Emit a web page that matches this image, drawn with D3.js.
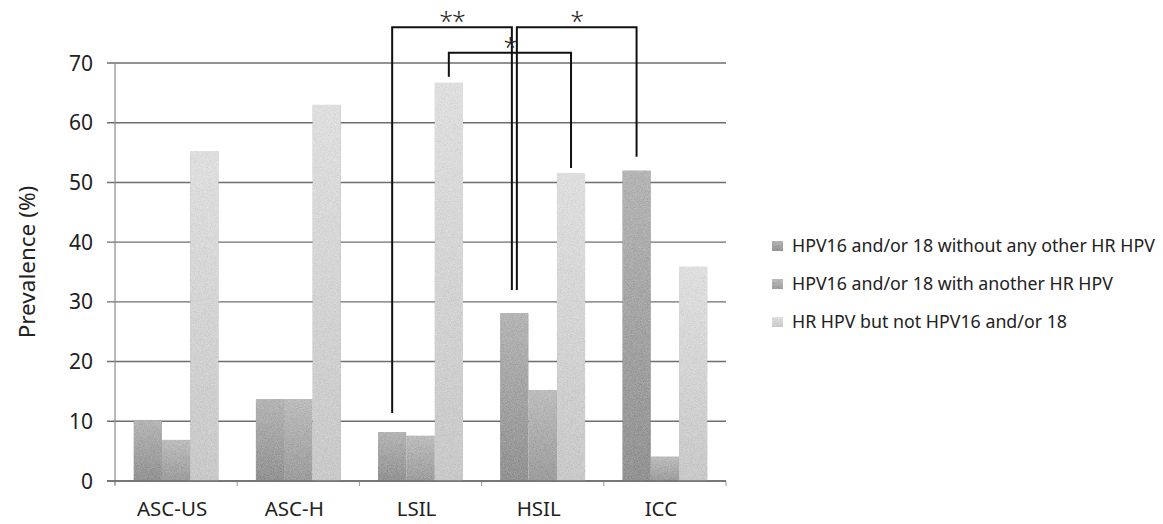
<!DOCTYPE html>
<html><head><meta charset="utf-8">
<script src="https://cdn.jsdelivr.net/npm/d3@7"></script>
<style>body{margin:0;background:#fff}svg{display:block}text{font-family:"Noto Sans",sans-serif;fill:#222}</style>
</head><body><svg id="c" width="1163" height="524"></svg>
<script>
const categories = ["ASC-US","ASC-H","LSIL","HSIL","ICC"];
const seriesNames = ["HPV16 and/or 18 without any other HR HPV","HPV16 and/or 18 with another HR HPV","HR HPV but not HPV16 and/or 18"];
const s0 = [10.2, 13.7, 8.2, 28.1, 52.0];
const s1 = [6.9, 13.7, 7.6, 15.2, 4.1];
const s2 = [55.2, 63.0, 66.7, 51.6, 35.9];
const yTicks = [0,10,20,30,40,50,60,70];
const brackets = [
  {a:[2,0], b:[3,0], top:76.0, endA:11.4, endB:32.0, label:"**", dA:0, dB:-2.5},
  {a:[2,2], b:[3,2], top:71.7, endA:67.7, endB:52.4, label:"*", dA:0, dB:0},
  {a:[3,0], b:[4,0], top:76.0, endA:32.0, endB:54.3, label:"*", dA:2.5, dB:0}
];
const series = [s0,s1,s2];
const svg = d3.select("#c");
const L=115, R=726, T=63, B=481;
const y = d3.scaleLinear().domain([0,70]).range([B,T]);
const x0 = d3.scaleBand().domain(categories).range([L,R]);
const gp = 18.6;
const x1 = d3.scaleBand().domain([0,1,2]).range([gp, x0.bandwidth()-gp]);
const cols = [["#b4b4b4","#929292"],["#bcbcbc","#9c9c9c"],["#dedede","#c8c8c8"]];
const defs = svg.append("defs");
cols.forEach((c,i)=>{
  const g = defs.append("linearGradient").attr("id","g"+i).attr("x1",0).attr("y1",0).attr("x2",0).attr("y2",1);
  g.append("stop").attr("offset","0%").attr("stop-color",c[0]);
  g.append("stop").attr("offset","100%").attr("stop-color",c[1]);
});
const f = defs.append("filter").attr("id","grain").attr("x",0).attr("y",0).attr("width","100%").attr("height","100%");
f.append("feTurbulence").attr("type","fractalNoise").attr("baseFrequency",1.3).attr("numOctaves",1).attr("seed",4).attr("result","n");
f.append("feColorMatrix").attr("in","n").attr("type","matrix")
  .attr("values","0.33 0.33 0.33 0 0  0.33 0.33 0.33 0 0  0.33 0.33 0.33 0 0  0 0 0 0 1").attr("result","gn");
f.append("feComposite").attr("in","gn").attr("in2","SourceGraphic").attr("operator","arithmetic")
  .attr("k1",0).attr("k2",0.45).attr("k3",1).attr("k4",-0.22).attr("result","mix");
f.append("feComposite").attr("in","mix").attr("in2","SourceGraphic").attr("operator","in");

// gridlines
svg.append("g").selectAll("line").data(yTicks).join("line")
  .attr("x1",L-8).attr("x2",R).attr("y1",d=>y(d)).attr("y2",d=>y(d))
  .attr("stroke","#6e6e6e").attr("stroke-width",1.4);
// left axis
svg.append("line").attr("x1",L).attr("x2",L).attr("y1",T).attr("y2",B+4).attr("stroke","#8a8a8a").attr("stroke-width",1.2);
// bottom ticks
svg.append("g").selectAll("line").data(d3.range(categories.length+1)).join("line")
  .attr("x1",i=>L+i*x0.bandwidth()).attr("x2",i=>L+i*x0.bandwidth()).attr("y1",B).attr("y2",B+5)
  .attr("stroke","#999").attr("stroke-width",1);
// y tick labels
svg.append("g").selectAll("text").data(yTicks).join("text")
  .attr("x",93).attr("y",d=>y(d)).attr("dy","0.36em").attr("text-anchor","end")
  .attr("font-size",21).text(d=>d);
// y title
svg.append("text").attr("transform","translate(35,262) rotate(-90)").attr("text-anchor","middle")
  .attr("font-size",22.5).text("Prevalence (%)");
// category labels
svg.append("g").selectAll("text").data(categories).join("text")
  .attr("x",d=>x0(d)+x0.bandwidth()/2-4).attr("y",516).attr("text-anchor","middle")
  .attr("font-size",20.5).text(d=>d);
// bars
const bars = [];
categories.forEach((c,ci)=>series.forEach((s,si)=>bars.push({c,ci,si,v:s[ci]})));
svg.append("g").selectAll("rect").data(bars).join("rect")
  .attr("x",d=>x0(d.c)+x1(d.si)).attr("width",x1.bandwidth())
  .attr("y",d=>y(d.v)).attr("height",d=>B-y(d.v))
  .attr("fill",d=>"url(#g"+d.si+")").attr("filter","url(#grain)");
// redraw baseline
svg.append("line").attr("x1",L-8).attr("x2",R).attr("y1",B).attr("y2",B).attr("stroke","#6e6e6e").attr("stroke-width",1.4);
// brackets
const cx = (p)=>x0(categories[p[0]])+x1(p[1])+x1.bandwidth()/2;
const bg = svg.append("g");
brackets.forEach(b=>{
  const xa = cx(b.a)+b.dA, xb = cx(b.b)+b.dB, yt = y(b.top);
  bg.append("path").attr("d",`M${xa},${y(b.endA)}V${yt}H${xb}V${y(b.endB)}`)
    .attr("fill","none").attr("stroke","#111").attr("stroke-width",2);
  bg.append("text").attr("x",(xa+xb)/2).attr("y",yt+3).attr("text-anchor","middle")
    .attr("font-size",25).attr("font-weight",300).attr("letter-spacing",-1).text(b.label);
});
// legend
const lg = svg.append("g");
seriesNames.forEach((n,i)=>{
  const yy = 246 + i*38;
  lg.append("rect").attr("x",772).attr("y",yy-5).attr("width",11).attr("height",10)
    .attr("fill","url(#g"+i+")").attr("filter","url(#grain)");
  lg.append("text").attr("x",792).attr("y",yy).attr("dy","0.36em").attr("font-size",17.8).text(n);
});
</script></body></html>
